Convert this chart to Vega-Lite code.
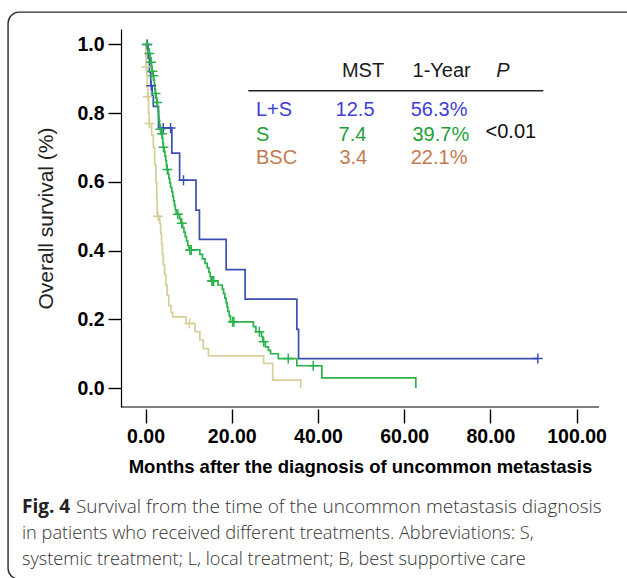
{
  "$schema": "https://vega.github.io/schema/vega-lite/v6.json",
  "width": 478,
  "height": 378,
  "autosize": "none",
  "padding": {"left": 121, "top": 29, "right": 28, "bottom": 171},
  "background": "white",
  "config": {"view": {"stroke": null}, "font": "Liberation Sans"},
  "data": {"values": [{"note": "annotation"}]},
  "datasets": {
    "km": [
      {"g": "BSC", "t": 0, "s": 1.0, "c": 0},
      {"g": "BSC", "t": 0.05, "s": 0.97, "c": 0},
      {"g": "BSC", "t": 0.1, "s": 0.95, "c": 0},
      {"g": "BSC", "t": 0.15, "s": 0.935, "c": 0},
      {"g": "BSC", "t": 0.2, "s": 0.935, "c": 1},
      {"g": "BSC", "t": 0.3, "s": 0.91, "c": 0},
      {"g": "BSC", "t": 0.4, "s": 0.88, "c": 0},
      {"g": "BSC", "t": 0.5, "s": 0.848, "c": 0},
      {"g": "BSC", "t": 0.55, "s": 0.848, "c": 1},
      {"g": "BSC", "t": 0.7, "s": 0.8, "c": 0},
      {"g": "BSC", "t": 0.85, "s": 0.77, "c": 0},
      {"g": "BSC", "t": 0.9, "s": 0.77, "c": 1},
      {"g": "BSC", "t": 1.4, "s": 0.736, "c": 0},
      {"g": "BSC", "t": 1.8, "s": 0.7, "c": 0},
      {"g": "BSC", "t": 2.1, "s": 0.65, "c": 0},
      {"g": "BSC", "t": 2.4, "s": 0.6, "c": 0},
      {"g": "BSC", "t": 2.6, "s": 0.55, "c": 0},
      {"g": "BSC", "t": 2.7, "s": 0.5, "c": 0},
      {"g": "BSC", "t": 2.9, "s": 0.5, "c": 1},
      {"g": "BSC", "t": 3.3, "s": 0.479, "c": 0},
      {"g": "BSC", "t": 3.5, "s": 0.45, "c": 0},
      {"g": "BSC", "t": 3.7, "s": 0.42, "c": 0},
      {"g": "BSC", "t": 3.9, "s": 0.39, "c": 0},
      {"g": "BSC", "t": 4.1, "s": 0.36, "c": 0},
      {"g": "BSC", "t": 4.4, "s": 0.33, "c": 0},
      {"g": "BSC", "t": 4.7, "s": 0.3, "c": 0},
      {"g": "BSC", "t": 5.0, "s": 0.27, "c": 0},
      {"g": "BSC", "t": 5.4, "s": 0.24, "c": 0},
      {"g": "BSC", "t": 5.9, "s": 0.22, "c": 0},
      {"g": "BSC", "t": 6.3, "s": 0.207, "c": 0},
      {"g": "BSC", "t": 9.4, "s": 0.188, "c": 0},
      {"g": "BSC", "t": 10.2, "s": 0.188, "c": 1},
      {"g": "BSC", "t": 11.5, "s": 0.164, "c": 0},
      {"g": "BSC", "t": 12.6, "s": 0.14, "c": 0},
      {"g": "BSC", "t": 13.4, "s": 0.115, "c": 0},
      {"g": "BSC", "t": 14.6, "s": 0.094, "c": 0},
      {"g": "BSC", "t": 27.4, "s": 0.072, "c": 0},
      {"g": "BSC", "t": 29.5, "s": 0.023, "c": 0},
      {"g": "BSC", "t": 36.0, "s": 0.0, "c": 0},
      {"g": "L+S", "t": 0, "s": 1.0, "c": 0},
      {"g": "L+S", "t": 0.4, "s": 1.0, "c": 1},
      {"g": "L+S", "t": 0.6, "s": 0.96, "c": 0},
      {"g": "L+S", "t": 0.9, "s": 0.92, "c": 0},
      {"g": "L+S", "t": 1.2, "s": 0.88, "c": 0},
      {"g": "L+S", "t": 1.3, "s": 0.88, "c": 1},
      {"g": "L+S", "t": 1.55, "s": 0.85, "c": 0},
      {"g": "L+S", "t": 1.8, "s": 0.82, "c": 0},
      {"g": "L+S", "t": 3.0, "s": 0.757, "c": 0},
      {"g": "L+S", "t": 4.1, "s": 0.757, "c": 1},
      {"g": "L+S", "t": 5.8, "s": 0.757, "c": 1},
      {"g": "L+S", "t": 6.1, "s": 0.684, "c": 0},
      {"g": "L+S", "t": 7.9, "s": 0.605, "c": 0},
      {"g": "L+S", "t": 8.8, "s": 0.605, "c": 1},
      {"g": "L+S", "t": 11.7, "s": 0.518, "c": 0},
      {"g": "L+S", "t": 12.5, "s": 0.433, "c": 0},
      {"g": "L+S", "t": 18.7, "s": 0.345, "c": 0},
      {"g": "L+S", "t": 23.1, "s": 0.259, "c": 0},
      {"g": "L+S", "t": 35.1, "s": 0.171, "c": 0},
      {"g": "L+S", "t": 35.5, "s": 0.086, "c": 0},
      {"g": "L+S", "t": 91.0, "s": 0.086, "c": 1},
      {"g": "S", "t": 0, "s": 1.0, "c": 0},
      {"g": "S", "t": 0.3, "s": 1.0, "c": 1},
      {"g": "S", "t": 0.5, "s": 0.987, "c": 0},
      {"g": "S", "t": 0.8, "s": 0.974, "c": 0},
      {"g": "S", "t": 0.9, "s": 0.974, "c": 1},
      {"g": "S", "t": 1.1, "s": 0.961, "c": 0},
      {"g": "S", "t": 1.2, "s": 0.948, "c": 0},
      {"g": "S", "t": 1.3, "s": 0.948, "c": 1},
      {"g": "S", "t": 1.4, "s": 0.935, "c": 0},
      {"g": "S", "t": 1.5, "s": 0.922, "c": 0},
      {"g": "S", "t": 1.55, "s": 0.922, "c": 1},
      {"g": "S", "t": 1.7, "s": 0.909, "c": 0},
      {"g": "S", "t": 1.8, "s": 0.909, "c": 1},
      {"g": "S", "t": 1.9, "s": 0.896, "c": 0},
      {"g": "S", "t": 2.05, "s": 0.883, "c": 0},
      {"g": "S", "t": 2.15, "s": 0.87, "c": 0},
      {"g": "S", "t": 2.25, "s": 0.857, "c": 0},
      {"g": "S", "t": 2.3, "s": 0.857, "c": 1},
      {"g": "S", "t": 2.45, "s": 0.844, "c": 0},
      {"g": "S", "t": 2.6, "s": 0.831, "c": 0},
      {"g": "S", "t": 2.65, "s": 0.831, "c": 1},
      {"g": "S", "t": 2.75, "s": 0.818, "c": 0},
      {"g": "S", "t": 2.9, "s": 0.805, "c": 0},
      {"g": "S", "t": 3.0, "s": 0.792, "c": 0},
      {"g": "S", "t": 3.1, "s": 0.779, "c": 0},
      {"g": "S", "t": 3.25, "s": 0.766, "c": 0},
      {"g": "S", "t": 3.4, "s": 0.753, "c": 0},
      {"g": "S", "t": 3.45, "s": 0.753, "c": 1},
      {"g": "S", "t": 3.6, "s": 0.74, "c": 0},
      {"g": "S", "t": 3.8, "s": 0.74, "c": 1},
      {"g": "S", "t": 3.9, "s": 0.727, "c": 0},
      {"g": "S", "t": 4.0, "s": 0.714, "c": 0},
      {"g": "S", "t": 4.1, "s": 0.701, "c": 0},
      {"g": "S", "t": 4.15, "s": 0.701, "c": 1},
      {"g": "S", "t": 4.3, "s": 0.688, "c": 0},
      {"g": "S", "t": 4.5, "s": 0.675, "c": 0},
      {"g": "S", "t": 4.7, "s": 0.662, "c": 0},
      {"g": "S", "t": 4.85, "s": 0.649, "c": 0},
      {"g": "S", "t": 4.95, "s": 0.636, "c": 0},
      {"g": "S", "t": 5.05, "s": 0.636, "c": 1},
      {"g": "S", "t": 5.2, "s": 0.623, "c": 0},
      {"g": "S", "t": 5.4, "s": 0.61, "c": 0},
      {"g": "S", "t": 5.6, "s": 0.597, "c": 0},
      {"g": "S", "t": 5.8, "s": 0.584, "c": 0},
      {"g": "S", "t": 6.1, "s": 0.571, "c": 0},
      {"g": "S", "t": 6.3, "s": 0.558, "c": 0},
      {"g": "S", "t": 6.5, "s": 0.545, "c": 0},
      {"g": "S", "t": 6.7, "s": 0.532, "c": 0},
      {"g": "S", "t": 6.9, "s": 0.519, "c": 0},
      {"g": "S", "t": 7.1, "s": 0.506, "c": 0},
      {"g": "S", "t": 7.5, "s": 0.506, "c": 1},
      {"g": "S", "t": 7.9, "s": 0.493, "c": 0},
      {"g": "S", "t": 8.2, "s": 0.48, "c": 0},
      {"g": "S", "t": 8.4, "s": 0.48, "c": 1},
      {"g": "S", "t": 8.6, "s": 0.467, "c": 0},
      {"g": "S", "t": 8.9, "s": 0.454, "c": 0},
      {"g": "S", "t": 9.2, "s": 0.441, "c": 0},
      {"g": "S", "t": 9.5, "s": 0.428, "c": 0},
      {"g": "S", "t": 9.8, "s": 0.415, "c": 0},
      {"g": "S", "t": 10.1, "s": 0.402, "c": 0},
      {"g": "S", "t": 10.3, "s": 0.402, "c": 1},
      {"g": "S", "t": 10.6, "s": 0.402, "c": 1},
      {"g": "S", "t": 12.6, "s": 0.389, "c": 0},
      {"g": "S", "t": 13.2, "s": 0.376, "c": 0},
      {"g": "S", "t": 13.8, "s": 0.363, "c": 0},
      {"g": "S", "t": 14.3, "s": 0.35, "c": 0},
      {"g": "S", "t": 14.7, "s": 0.337, "c": 0},
      {"g": "S", "t": 15.0, "s": 0.324, "c": 0},
      {"g": "S", "t": 15.2, "s": 0.312, "c": 0},
      {"g": "S", "t": 15.4, "s": 0.312, "c": 1},
      {"g": "S", "t": 15.6, "s": 0.312, "c": 1},
      {"g": "S", "t": 15.8, "s": 0.312, "c": 1},
      {"g": "S", "t": 16.8, "s": 0.3, "c": 0},
      {"g": "S", "t": 17.8, "s": 0.288, "c": 0},
      {"g": "S", "t": 18.1, "s": 0.275, "c": 0},
      {"g": "S", "t": 18.4, "s": 0.262, "c": 0},
      {"g": "S", "t": 18.7, "s": 0.249, "c": 0},
      {"g": "S", "t": 18.9, "s": 0.236, "c": 0},
      {"g": "S", "t": 19.1, "s": 0.223, "c": 0},
      {"g": "S", "t": 19.4, "s": 0.21, "c": 0},
      {"g": "S", "t": 19.7, "s": 0.193, "c": 0},
      {"g": "S", "t": 20.2, "s": 0.193, "c": 1},
      {"g": "S", "t": 20.5, "s": 0.193, "c": 1},
      {"g": "S", "t": 25.0, "s": 0.179, "c": 0},
      {"g": "S", "t": 25.6, "s": 0.164, "c": 0},
      {"g": "S", "t": 26.4, "s": 0.164, "c": 1},
      {"g": "S", "t": 26.9, "s": 0.15, "c": 0},
      {"g": "S", "t": 27.2, "s": 0.135, "c": 0},
      {"g": "S", "t": 27.4, "s": 0.135, "c": 1},
      {"g": "S", "t": 27.8, "s": 0.12, "c": 0},
      {"g": "S", "t": 28.5, "s": 0.11, "c": 0},
      {"g": "S", "t": 29.0, "s": 0.1, "c": 0},
      {"g": "S", "t": 30.8, "s": 0.086, "c": 0},
      {"g": "S", "t": 33.1, "s": 0.086, "c": 1},
      {"g": "S", "t": 35.1, "s": 0.065, "c": 0},
      {"g": "S", "t": 38.9, "s": 0.065, "c": 1},
      {"g": "S", "t": 40.9, "s": 0.03, "c": 0},
      {"g": "S", "t": 62.7, "s": 0.0, "c": 0}
    ],
    "tbl": [
      {"g": "L+S", "mst": "12.5", "yr": "56.3%"},
      {"g": "S", "mst": "7.4", "yr": "39.7%"},
      {"g": "BSC", "mst": "3.4", "yr": "22.1%"}
    ]
  },
  "layer": [
    {
      "mark": {"type": "rect", "fill": null, "stroke": "#2b2b2b", "strokeWidth": 1.4, "cornerRadius": 11},
      "encoding": {
        "x": {"datum": -31.9, "type": "quantitative"},
        "x2": {"datum": 114.7},
        "y": {"datum": 1.094, "type": "quantitative"},
        "y2": {"datum": -0.556}
      }
    },
    {
      "mark": {"type": "rule", "stroke": "black", "strokeWidth": 1.2},
      "encoding": {"y": {"datum": -0.055, "type": "quantitative"}}
    },
    {
      "data": {"name": "km"},
      "mark": {"type": "line", "interpolate": "step-after", "strokeWidth": 1.7},
      "encoding": {
        "x": {
          "field": "t", "type": "quantitative",
          "scale": {"domain": [-5.7, 105.2], "nice": false, "zero": false},
          "axis": {
            "values": [0, 20, 40, 60, 80, 100], "format": ".2f",
            "title": "Months after the diagnosis of uncommon metastasis",
            "domain": false, "offset": 2, "grid": false,
            "tickSize": 14, "tickColor": "black", "tickWidth": 1.4,
            "labelFont": "Liberation Sans", "labelFontSize": 19.5, "labelFontWeight": "bold",
            "labelColor": "black", "labelPadding": 4, "labelFlush": false,
            "titleFont": "Liberation Sans", "titleFontSize": 18.5, "titleFontWeight": "bold",
            "titleColor": "black", "titlePadding": 12
          }
        },
        "y": {
          "field": "s", "type": "quantitative",
          "scale": {"domain": [-0.055, 1.045], "nice": false, "zero": false},
          "axis": {
            "values": [0, 0.2, 0.4, 0.6, 0.8, 1], "format": ".1f",
            "title": "Overall survival (%)",
            "domain": true, "domainColor": "black", "domainWidth": 1.2, "grid": false,
            "tickSize": 13, "tickColor": "black", "tickWidth": 1.4,
            "labelFont": "Liberation Sans", "labelFontSize": 19.5, "labelFontWeight": "bold",
            "labelColor": "black", "labelPadding": 4,
            "titleFont": "Liberation Sans", "titleFontSize": 21, "titleFontWeight": "normal",
            "titleColor": "#222", "titlePadding": 20
          }
        },
        "stroke": {
          "field": "g", "type": "nominal",
          "scale": {"domain": ["BSC", "L+S", "S"], "range": ["#d6cf9a", "#3c50b4", "#2bb34b"]},
          "legend": null
        }
      }
    },
    {
      "data": {"name": "km"},
      "transform": [{"filter": "datum.c == 1"}],
      "mark": {"type": "point", "shape": "M-1,0H1M0,-1V1", "filled": false, "size": 100, "strokeWidth": 1.5, "opacity": 1},
      "encoding": {
        "x": {"field": "t", "type": "quantitative"},
        "y": {"field": "s", "type": "quantitative"},
        "stroke": {"field": "g", "type": "nominal", "legend": null}
      }
    },
    {
      "mark": {"type": "text", "text": "MST", "fontSize": 20, "align": "center", "baseline": "middle", "color": "#1a1a1a"},
      "encoding": {"x": {"datum": 50.45, "type": "quantitative"}, "y": {"datum": 0.9237, "type": "quantitative"}}
    },
    {
      "mark": {"type": "text", "text": "1-Year", "fontSize": 20, "align": "center", "baseline": "middle", "color": "#1a1a1a"},
      "encoding": {"x": {"datum": 68.7, "type": "quantitative"}, "y": {"datum": 0.9237, "type": "quantitative"}}
    },
    {
      "mark": {"type": "text", "text": "P", "fontSize": 20, "fontStyle": "italic", "align": "center", "baseline": "middle", "color": "#1a1a1a"},
      "encoding": {"x": {"datum": 82.9, "type": "quantitative"}, "y": {"datum": 0.9237, "type": "quantitative"}}
    },
    {
      "mark": {"type": "rule", "stroke": "#222", "strokeWidth": 1.4},
      "encoding": {
        "x": {"datum": 23.84, "type": "quantitative"},
        "x2": {"datum": 92.28},
        "y": {"datum": 0.8655, "type": "quantitative"}
      }
    },
    {
      "data": {"name": "tbl"},
      "transform": [{"filter": "datum.g == 'L+S'"}],
      "encoding": {
        "y": {"datum": 0.8094, "type": "quantitative"},
        "fill": {"field": "g", "type": "nominal", "scale": {"domain": ["L+S", "S", "BSC"], "range": ["#4040d4", "#1f9f3a", "#c27b50"]}, "legend": null}
      },
      "layer": [
        {"mark": {"type": "text", "fontSize": 20, "align": "left", "baseline": "middle"}, "encoding": {"x": {"datum": 25.62, "type": "quantitative"}, "text": {"field": "g"}}},
        {"mark": {"type": "text", "fontSize": 20, "align": "center", "baseline": "middle"}, "encoding": {"x": {"datum": 48.6, "type": "quantitative"}, "text": {"field": "mst"}}},
        {"mark": {"type": "text", "fontSize": 20, "align": "center", "baseline": "middle"}, "encoding": {"x": {"datum": 68.1, "type": "quantitative"}, "text": {"field": "yr"}}}
      ]
    },
    {
      "data": {"name": "tbl"},
      "transform": [{"filter": "datum.g == 'S'"}],
      "encoding": {
        "y": {"datum": 0.7366, "type": "quantitative"},
        "fill": {"field": "g", "type": "nominal", "legend": null}
      },
      "layer": [
        {"mark": {"type": "text", "fontSize": 20, "align": "left", "baseline": "middle"}, "encoding": {"x": {"datum": 25.62, "type": "quantitative"}, "text": {"field": "g"}}},
        {"mark": {"type": "text", "fontSize": 20, "align": "center", "baseline": "middle"}, "encoding": {"x": {"datum": 48.0, "type": "quantitative"}, "text": {"field": "mst"}}},
        {"mark": {"type": "text", "fontSize": 20, "align": "center", "baseline": "middle"}, "encoding": {"x": {"datum": 68.5, "type": "quantitative"}, "text": {"field": "yr"}}}
      ]
    },
    {
      "data": {"name": "tbl"},
      "transform": [{"filter": "datum.g == 'BSC'"}],
      "encoding": {
        "y": {"datum": 0.6688, "type": "quantitative"},
        "fill": {"field": "g", "type": "nominal", "legend": null}
      },
      "layer": [
        {"mark": {"type": "text", "fontSize": 20, "align": "left", "baseline": "middle"}, "encoding": {"x": {"datum": 25.62, "type": "quantitative"}, "text": {"field": "g"}}},
        {"mark": {"type": "text", "fontSize": 20, "align": "center", "baseline": "middle"}, "encoding": {"x": {"datum": 48.2, "type": "quantitative"}, "text": {"field": "mst"}}},
        {"mark": {"type": "text", "fontSize": 20, "align": "center", "baseline": "middle"}, "encoding": {"x": {"datum": 68.1, "type": "quantitative"}, "text": {"field": "yr"}}}
      ]
    },
    {
      "mark": {"type": "text", "text": "<0.01", "fontSize": 20, "align": "center", "baseline": "middle", "color": "#111"},
      "encoding": {"x": {"datum": 84.74, "type": "quantitative"}, "y": {"datum": 0.746, "type": "quantitative"}}
    },
    {
      "mark": {"type": "text", "text": "Fig. 4", "font": "Open Sans", "fontWeight": "bold", "fontSize": 19, "align": "left", "baseline": "alphabetic", "color": "#222"},
      "encoding": {"x": {"datum": -28.67, "type": "quantitative"}, "y": {"datum": -0.3626, "type": "quantitative"}}
    },
    {
      "mark": {"type": "text", "text": "Survival from the time of the uncommon metastasis diagnosis", "font": "Open Sans", "fontWeight": 300, "fontSize": 19, "align": "left", "baseline": "alphabetic", "dx": 54, "color": "#333"},
      "encoding": {"x": {"datum": -28.67, "type": "quantitative"}, "y": {"datum": -0.3626, "type": "quantitative"}}
    },
    {
      "mark": {
        "type": "text",
        "text": ["in patients who received different treatments. Abbreviations: S,", "systemic treatment; L, local treatment; B, best supportive care"],
        "font": "Open Sans", "fontWeight": 300, "fontSize": 18.2, "lineHeight": 26, "align": "left", "baseline": "alphabetic", "color": "#333"
      },
      "encoding": {"x": {"datum": -28.67, "type": "quantitative"}, "y": {"datum": -0.4377, "type": "quantitative"}}
    }
  ]
}
